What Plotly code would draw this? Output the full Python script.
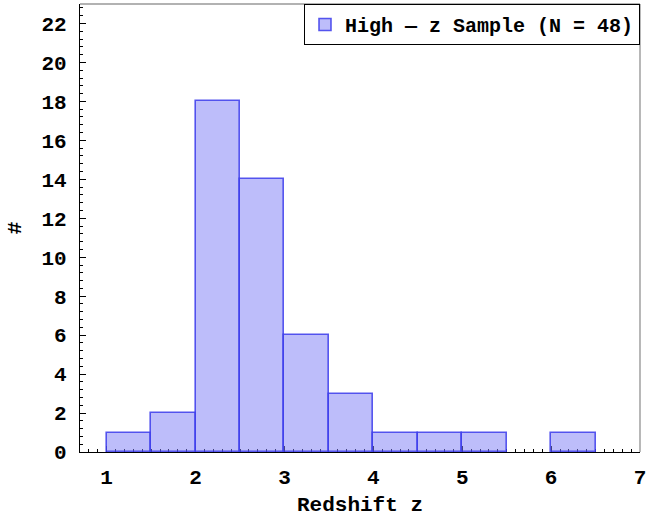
import plotly.graph_objects as go

bin_left = [1.0, 1.5, 2.0, 2.5, 3.0, 3.5, 4.0, 4.5, 5.0, 5.5, 6.0]
counts = [1, 2, 18, 14, 6, 3, 1, 1, 1, 0, 1]
bin_width = 0.5
series_name = "High \u2014 z Sample (N = 48)"
x_ticks = [1, 2, 3, 4, 5, 6, 7]
y_ticks = list(range(0, 23, 2))

centers = [b + bin_width / 2 for b in bin_left]
line_widths = [1.6 if c > 0 else 0 for c in counts]
FONT = "Liberation Mono"

fig = go.Figure()
fig.add_trace(go.Bar(
    x=centers, y=counts, width=bin_width, name=series_name,
    marker=dict(color="rgba(128,128,245,0.52)",
                line=dict(color="rgba(60,60,235,0.85)", width=line_widths)),
    showlegend=True,
))

tickfont = dict(family=FONT, size=21, color="black", weight="bold")
axis_common = dict(showgrid=False, zeroline=False, showline=True, linecolor="black",
                   linewidth=1.2, ticks="inside", tickcolor="black", layer="below traces",
                   tickfont=tickfont)

fig.update_xaxes(range=[0.7, 7.0], tickvals=x_ticks, ticklen=6, ticklabelstandoff=6,
                 minor=dict(dtick=0.1, tick0=0, ticks="inside", ticklen=3, tickcolor="black"),
                 title=dict(text="Redshift z",
                            font=dict(family=FONT, size=21, color="black", weight="bold"),
                            standoff=8),
                 **axis_common)
fig.update_yaxes(range=[0, 23.0], tickvals=y_ticks, ticklen=6, ticklabelstandoff=8,
                 minor=dict(dtick=0.4, tick0=0, ticks="inside", ticklen=3, tickcolor="black"),
                 title=dict(text="#",
                            font=dict(family=FONT, size=21, color="black", weight="bold"),
                            standoff=14),
                 **axis_common)

# frame top and right (gray)
fig.add_shape(type="line", xref="paper", yref="paper", x0=0, x1=1, y0=1, y1=1,
              line=dict(color="#666666", width=1.2))
fig.add_shape(type="line", xref="paper", yref="paper", x0=1, x1=1, y0=0, y1=1,
              line=dict(color="#888888", width=1.2))

fig.update_layout(
    width=650, height=517,
    margin=dict(l=80, r=7, t=4, b=64),
    plot_bgcolor="white", paper_bgcolor="white",
    bargap=0,
    legend=dict(x=1, y=1, xanchor="right", yanchor="top",
                bordercolor="black", borderwidth=1, bgcolor="white",
                font=dict(family=FONT, size=20, color="black", weight="bold")),
)

fig.write_html("out.html")
